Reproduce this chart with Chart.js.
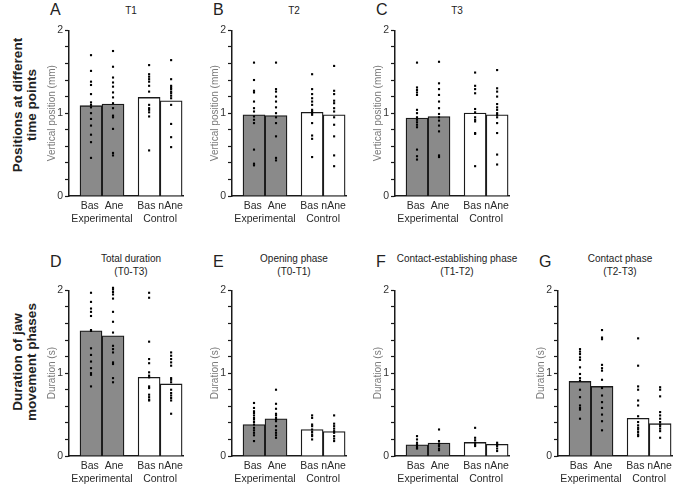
<!DOCTYPE html>
<html>
<head>
<meta charset="utf-8">
<script src="https://cdn.jsdelivr.net/npm/chart.js@4.4.1/dist/chart.umd.min.js"></script>
<style>
  html, body { margin: 0; padding: 0; background: #fff; overflow: hidden; }
  body { font-family: "Liberation Sans", Arial, sans-serif; color: #222; }
  #wrap { position: relative; width: 685px; height: 486px; }
  .panel { position: absolute; }
  .letter { position: absolute; font-size: 16px; line-height: 18px; color: #222; }
  .ttl { position: absolute; width: 160px; text-align: center; font-size: 10px; line-height: 13px; color: #222; }
  .row-label { position: absolute; width: 200px; height: 28px; text-align: center; font-weight: bold;
               font-size: 13.5px; line-height: 14px; color: #222; transform: rotate(-90deg); white-space: nowrap; }
</style>
</head>
<body>
<div id="wrap">
  <div class="row-label" style="left:-75px;top:91px">Positions at different<br>time points</div>
  <div class="row-label" style="left:-75px;top:348px">Duration of jaw<br>movement phases</div>
</div>
<script>
// x positions of the 4 bars (units = one bar width), group label positions
const xPos = [0, 1, 2.64, 3.64];
const groupPos = [0.5, 3.14];
const groupLabels = [['Bas  Ane', 'Experimental'], ['Bas nAne', 'Control']];
const barColors = ['#8a8a8a', '#8a8a8a', '#ffffff', '#ffffff'];

const letters = ['A', 'B', 'C', 'D', 'E', 'F', 'G'];
const titles = [['T1'], ['T2'], ['T3'], ['Total duration', '(T0-T3)'], ['Opening phase', '(T0-T1)'],
                ['Contact-establishing phase', '(T1-T2)'], ['Contact phase', '(T2-T3)']];
const yTitles = ['Vertical position (mm)', 'Vertical position (mm)', 'Vertical position (mm)',
                 'Duration (s)', 'Duration (s)', 'Duration (s)', 'Duration (s)'];

// A - T1
const aBars = [1.09, 1.11, 1.19, 1.15];
const aExpBas = [1.70, 1.51, 1.38, 1.34, 1.23, 1.13, 1.10, 1.07, 1.00, 0.93, 0.85, 0.74, 0.65, 0.46];
const aExpAne = [1.75, 1.56, 1.43, 1.37, 1.32, 1.25, 1.19, 1.12, 1.06, 0.97, 0.95, 0.81, 0.52, 0.49];
const aCtlBas = [1.58, 1.47, 1.44, 1.41, 1.38, 1.33, 1.26, 1.10, 1.06, 1.04, 1.01, 0.96, 0.55];
const aCtlNAne = [1.64, 1.41, 1.33, 1.31, 1.29, 1.26, 1.24, 1.21, 1.18, 1.10, 0.87, 0.71, 0.59];

// B - T2
const bBars = [0.98, 0.97, 1.01, 0.98];
const bExpBas = [1.61, 1.40, 1.27, 1.25, 1.14, 1.06, 1.02, 0.96, 0.92, 0.88, 0.56, 0.39, 0.37];
const bExpAne = [1.61, 1.29, 1.26, 1.20, 1.14, 1.07, 1.00, 0.95, 0.88, 0.72, 0.46, 0.43];
const bCtlBas = [1.47, 1.29, 1.23, 1.18, 1.14, 1.10, 1.04, 1.02, 1.00, 0.98, 0.88, 0.73, 0.69, 0.47];
const bCtlNAne = [1.57, 1.27, 1.23, 1.15, 1.12, 1.06, 1.02, 0.95, 0.86, 0.72, 0.49, 0.36];

// C - T3
const cBars = [0.94, 0.96, 1.00, 0.98];
const cExpBas = [1.61, 1.31, 1.28, 1.25, 1.22, 1.04, 1.00, 0.95, 0.92, 0.89, 0.86, 0.83, 0.56, 0.48, 0.44];
const cExpAne = [1.62, 1.36, 1.29, 1.22, 1.14, 1.06, 0.99, 0.95, 0.91, 0.85, 0.78, 0.49, 0.47];
const cCtlBas = [1.49, 1.33, 1.29, 1.24, 1.05, 1.01, 0.95, 0.92, 0.90, 0.76, 0.75, 0.36];
const cCtlNAne = [1.52, 1.30, 1.26, 1.20, 1.11, 1.07, 1.04, 1.00, 0.98, 0.95, 0.88, 0.76, 0.50, 0.38];

// D - total duration
const dBars = [1.51, 1.45, 0.95, 0.87];
const dExpBas = [1.97, 1.86, 1.78, 1.74, 1.69, 1.52, 1.51, 1.30, 1.22, 1.14, 1.06, 1.00, 0.98, 0.84];
const dExpAne = [2.03, 2.01, 1.98, 1.95, 1.90, 1.74, 1.62, 1.49, 1.33, 1.29, 1.25, 1.13, 1.11, 0.94, 0.89];
const dCtlBas = [1.97, 1.91, 1.38, 1.17, 1.12, 1.01, 0.97, 0.95, 0.84, 0.82, 0.74, 0.71, 0.68, 0.67];
const dCtlNAne = [1.25, 1.21, 1.17, 1.13, 1.09, 0.94, 0.92, 0.89, 0.80, 0.76, 0.73, 0.70, 0.67, 0.51];

// E - opening phase
const eBars = [0.38, 0.45, 0.32, 0.295];
const eExpBas = [0.64, 0.58, 0.54, 0.52, 0.49, 0.46, 0.44, 0.41, 0.38, 0.34, 0.31, 0.28, 0.25, 0.18];
const eExpAne = [0.80, 0.63, 0.57, 0.51, 0.49, 0.46, 0.44, 0.42, 0.36, 0.31, 0.28, 0.25, 0.22];
const eCtlBas = [0.49, 0.46, 0.38, 0.36, 0.32, 0.29, 0.26, 0.24, 0.20];
const eCtlNAne = [0.49, 0.39, 0.36, 0.33, 0.30, 0.28, 0.24, 0.21, 0.18];

// F - contact-establishing phase
const fBars = [0.136, 0.156, 0.164, 0.14];
const fExpBas = [0.24, 0.20, 0.16, 0.14, 0.12, 0.10, 0.09];
const fExpAne = [0.32, 0.18, 0.15, 0.13, 0.12, 0.09, 0.07];
const fCtlBas = [0.34, 0.22, 0.19, 0.16, 0.14, 0.12];
const fCtlNAne = [0.16, 0.14, 0.12, 0.09, 0.06];

// G - contact phase
const gBars = [0.90, 0.84, 0.455, 0.39];
const gExpBas = [1.29, 1.26, 1.23, 1.19, 1.16, 1.07, 0.99, 0.94, 0.91, 0.80, 0.71, 0.61, 0.58, 0.56, 0.45];
const gExpAne = [1.52, 1.43, 1.41, 1.10, 1.06, 1.03, 0.92, 0.82, 0.73, 0.65, 0.58, 0.50, 0.42, 0.31];
const gCtlBas = [1.42, 1.09, 0.84, 0.80, 0.67, 0.61, 0.48, 0.41, 0.37, 0.34, 0.32, 0.29, 0.26, 0.24];
const gCtlNAne = [0.83, 0.80, 0.72, 0.53, 0.49, 0.45, 0.41, 0.38, 0.36, 0.33, 0.30, 0.22];

const panels = [
  { bars: aBars, dots: [aExpBas, aExpAne, aCtlBas, aCtlNAne], axisX: 69, top: 22 },
  { bars: bBars, dots: [bExpBas, bExpAne, bCtlBas, bCtlNAne], axisX: 232, top: 22 },
  { bars: cBars, dots: [cExpBas, cExpAne, cCtlBas, cCtlNAne], axisX: 395, top: 22 },
  { bars: dBars, dots: [dExpBas, dExpAne, dCtlBas, dCtlNAne], axisX: 69, top: 282 },
  { bars: eBars, dots: [eExpBas, eExpAne, eCtlBas, eCtlNAne], axisX: 232, top: 282 },
  { bars: fBars, dots: [fExpBas, fExpAne, fCtlBas, fCtlNAne], axisX: 395, top: 282 },
  { bars: gBars, dots: [gExpBas, gExpAne, gCtlBas, gCtlNAne], axisX: 558, top: 282 }
];

Chart.defaults.font.family = '"Liberation Sans", Arial, sans-serif';

const wrap = document.getElementById('wrap');
const Y_AXIS_W = 39;

function isWhole(v) { return Math.abs(v - Math.round(v)) < 1e-6; }

panels.forEach((p, i) => {
  const left = p.axisX - Y_AXIS_W;
  const twoLine = titles[i].length > 1;

  // letter + title (plain html text)
  const lt = document.createElement('div');
  lt.className = 'letter';
  lt.textContent = letters[i];
  lt.style.left = (p.axisX - 19) + 'px';
  lt.style.top = (twoLine ? p.top - 29 : p.top - 21) + 'px';
  wrap.appendChild(lt);

  const tt = document.createElement('div');
  tt.className = 'ttl';
  tt.innerHTML = titles[i].join('<br>');
  tt.style.left = (p.axisX + 62 - 80) + 'px';
  tt.style.top = (twoLine ? p.top - 30 : p.top - 18) + 'px';
  wrap.appendChild(tt);

  const canvas = document.createElement('canvas');
  canvas.className = 'panel';
  canvas.width = 160;
  canvas.height = 204;
  canvas.style.left = left + 'px';
  canvas.style.top = p.top + 'px';
  canvas.style.width = '160px';
  canvas.style.height = '204px';
  wrap.appendChild(canvas);

  const dotData = [];
  p.dots.forEach((arr, k) => arr.forEach(v => dotData.push({ x: xPos[k], y: v })));

  new Chart(canvas.getContext('2d'), {
    type: 'bar',
    data: {
      datasets: [
        {
          type: 'scatter',
          data: dotData,
          pointStyle: 'rect',
          pointRadius: 1.5,
          pointBackgroundColor: '#000',
          pointBorderWidth: 0,
          clip: false,
          order: 0
        },
        {
          type: 'bar',
          data: p.bars.map((v, k) => ({ x: xPos[k], y: v })),
          backgroundColor: barColors,
          borderColor: '#1a1a1a',
          borderWidth: 1.3,
          barThickness: 22,
          order: 1
        }
      ]
    },
    options: {
      responsive: false,
      animation: false,
      layout: { padding: { top: 7, right: 7, bottom: 0, left: 0 } },
      plugins: { legend: { display: false }, tooltip: { enabled: false } },
      scales: {
        x: {
          type: 'linear',
          min: -1,
          max: 4.18,
          offset: false,
          grid: { display: false, drawTicks: false },
          border: { color: '#1a1a1a', width: 1.5 },
          afterBuildTicks: s => { s.ticks = groupPos.map(v => ({ value: v })); },
          afterFit: s => { s.height = 30; },
          ticks: {
            autoSkip: false,
            maxRotation: 0,
            padding: 3,
            color: '#2a2a2a',
            font: { size: 10.5, lineHeight: 1.3 },
            callback: v => (v < 2 ? groupLabels[0] : groupLabels[1])
          }
        },
        y: {
          min: 0,
          max: 2,
          afterFit: s => { s.width = Y_AXIS_W; },
          ticks: {
            stepSize: 0.2,
            padding: 2,
            color: '#333',
            font: { size: 10.5 },
            callback: v => (isWhole(v) ? String(Math.round(v)) : '')
          },
          grid: { drawOnChartArea: false, tickLength: 4, color: '#1a1a1a', tickWidth: 1.2 },
          border: { color: '#1a1a1a', width: 1.5 },
          title: {
            display: true,
            text: yTitles[i],
            color: '#7a7a7a',
            font: { size: 10 },
            padding: { top: 16, bottom: 0 }
          }
        }
      }
    }
  });
});
</script>
</body>
</html>
